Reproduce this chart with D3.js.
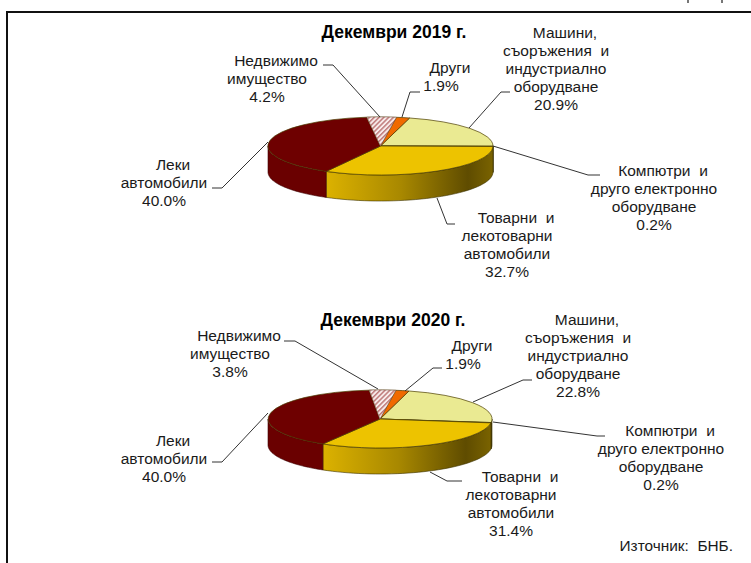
<!DOCTYPE html>
<html>
<head>
<meta charset="utf-8">
<script src="https://cdn.jsdelivr.net/npm/d3@7"></script>
<style>
  html, body { margin: 0; padding: 0; background: #fff; }
  text { font-family: "Liberation Sans", Arial, sans-serif; fill: #1a1a1a; }
</style>
</head>
<body>
<div id="chart"></div>
<script>
// data
var categories = ["Машини", "Компютри", "Товарни", "Леки", "Недвижимо", "Други"];
var values2019 = [20.9, 0.2, 32.7, 40.0, 4.2, 1.9];
var values2020 = [22.8, 0.2, 31.4, 40.0, 3.8, 1.9];
var titles = ["Декември 2019 г.", "Декември 2020 г."];
var labelNames = [
  ["Машини,", "съоръжения  и", "индустриално", "оборудване"],
  ["Компютри  и", "друго електронно", "оборудване"],
  ["Товарни  и", "лекотоварни", "автомобили"],
  ["Леки", "автомобили"],
  ["Недвижимо", "имущество"],
  ["Други"]
];
var source = "Източник:  БНБ.";

var colors = ["#eaea92", "#f0f0a0", "#edc300", "#6e0000", "#fff", "#f06a00"];

// layout of each pie, labels and leader lines
var pies = [
  { values: values2019, title: titles[0], titleX: 394, titleY: 38, cx: 380.5, cy: 146, rx: 112.5, ry: 29, depth: 26,
    labels: [[556, 38], [654, 176], [507, 223], [164, 170], [267, 66], [441, 73]],
    leaders: [
      [[510, 92], [501, 92], [469, 128]],
      [[600, 175], [588, 175], [493, 146]],
      [[455, 224], [447, 224], [437, 198]],
      [[212, 188], [222, 188], [268, 142]],
      [[323, 65], [333, 65], [380, 117]],
      [[420, 92], [410, 92], [402, 117]]
    ] },
  { values: values2020, title: titles[1], titleX: 393, titleY: 326, cx: 380, cy: 419, rx: 112, ry: 29, depth: 26,
    labels: [[578, 325], [661, 436], [511, 482], [164, 446], [230, 341], [463, 351]],
    leaders: [
      [[532, 380], [523, 380], [473, 402]],
      [[605, 436], [597, 436], [493, 422]],
      [[462, 481], [447, 481], [430, 472]],
      [[212, 462], [222, 462], [268, 413]],
      [[284, 341], [295, 341], [378, 389]],
      [[442, 368], [433, 368], [405, 391]]
    ] }
];

var width = 751, height = 563;
var startDeg = 15;

var svg = d3.select("#chart").append("svg")
    .attr("width", width)
    .attr("height", height)
    .style("display", "block");

var defs = svg.append("defs");

// red diagonal hatch of the small slice
var hatch = defs.append("pattern")
    .attr("id", "hatch")
    .attr("patternUnits", "userSpaceOnUse")
    .attr("width", 3.4)
    .attr("height", 3.4)
    .attr("patternTransform", "rotate(-45)");
hatch.append("rect").attr("width", 3.4).attr("height", 3.4).attr("fill", "#f8ecec");
hatch.append("rect").attr("width", 3.4).attr("height", 1.5).attr("fill", "#bf7a7a");

// side of the truck slice goes from gold to dark olive
var wall = defs.append("linearGradient").attr("id", "wall");
wall.append("stop").attr("offset", "0%").attr("stop-color", "#dcb200");
wall.append("stop").attr("offset", "45%").attr("stop-color", "#a88800");
wall.append("stop").attr("offset", "85%").attr("stop-color", "#5f4c00");
wall.append("stop").attr("offset", "100%").attr("stop-color", "#7a6300");

// frame: left and top only
svg.append("path")
    .attr("d", d3.line()([[7, height], [7, 12], [width, 12]]))
    .attr("fill", "none")
    .attr("stroke", "#111")
    .attr("stroke-width", 2);

// bits of the cropped line above the frame
[688, 722].forEach(function(x) {
  svg.append("line").attr("x1", x).attr("x2", x).attr("y1", 0).attr("y2", 3)
    .attr("stroke", "#777").attr("stroke-width", 2);
});

pies.forEach(function(p) {
  var g = svg.append("g");

  var arcs = d3.pie().sort(null)
      .startAngle(startDeg * Math.PI / 180)
      .endAngle((startDeg + 360) * Math.PI / 180)(p.values);

  var xOf = d3.scaleLinear().domain([-1, 1]).range([p.cx - p.rx, p.cx + p.rx]);
  var yOf = d3.scaleLinear().domain([-1, 1]).range([p.cy - p.ry, p.cy + p.ry]);

  // front wall, only the part of each slice facing the viewer (90..270 deg)
  arcs.forEach(function(a, i) {
    var a0 = Math.max(a.startAngle, Math.PI / 2), a1 = Math.min(a.endAngle, 3 * Math.PI / 2);
    if (a1 <= a0) return;
    var rim = d3.range(0, 41).map(function(k) { return a0 + (a1 - a0) * k / 40; });
    var area = d3.area()
        .x(function(t) { return xOf(Math.sin(t)); })
        .y0(function(t) { return yOf(-Math.cos(t)); })
        .y1(function(t) { return yOf(-Math.cos(t)) + p.depth; });
    g.append("path")
        .attr("d", area(rim))
        .attr("fill", i === 2 ? "url(#wall)" : i === 3 ? "#6a0000" : "#6b5700")
        .attr("stroke", i === 3 ? "#3c0000" : "#3a3000")
        .attr("stroke-width", 0.6);
  });

  // top face: d3.arc squashed into an ellipse
  var arc = d3.arc().innerRadius(0).outerRadius(1);
  g.append("g")
      .attr("transform", "translate(" + p.cx + "," + p.cy + ") scale(" + p.rx + "," + p.ry + ")")
    .selectAll("path")
    .data(arcs)
    .enter().append("path")
      .attr("d", arc)
      .attr("fill", function(d, i) { return colors[i]; })
      .attr("stroke", "#4a3c00")
      .attr("stroke-width", 0.7)
      .attr("vector-effect", "non-scaling-stroke");

  // hatch pattern would get squashed with the arc, so redo that slice unscaled
  var small = arcs[4];
  var rimSmall = d3.range(0, 11).map(function(k) {
    var t = small.startAngle + (small.endAngle - small.startAngle) * k / 10;
    return [xOf(Math.sin(t)), yOf(-Math.cos(t))];
  });
  g.append("path")
      .attr("d", d3.line()([[p.cx, p.cy]].concat(rimSmall)) + "Z")
      .attr("fill", "url(#hatch)")
      .attr("stroke", "#7a5a4a")
      .attr("stroke-width", 0.5);

  // leader lines
  g.selectAll(".leader")
    .data(p.leaders)
    .enter().append("path")
      .attr("class", "leader")
      .attr("d", d3.line())
      .attr("fill", "none")
      .attr("stroke", "#333")
      .attr("stroke-width", 1);

  // labels: name lines and then the percent, first line sits a bit to the right
  labelNames.forEach(function(lines, i) {
    var all = lines.concat([p.values[i].toFixed(1) + "%"]);
    var t = g.append("text")
        .attr("text-anchor", "middle")
        .attr("font-size", 15.5)
        .style("white-space", "pre");
    all.forEach(function(s, k) {
      t.append("tspan")
          .attr("x", p.labels[i][0] + (k === 0 ? 9 : 0))
          .attr("y", p.labels[i][1] + k * 18)
          .text(s);
    });
  });

  g.append("text")
      .attr("x", p.titleX)
      .attr("y", p.titleY)
      .attr("text-anchor", "middle")
      .attr("font-size", 17.5)
      .attr("font-weight", "bold")
      .style("fill", "#000")
      .text(p.title);
});

svg.append("text")
    .attr("x", 733)
    .attr("y", 551)
    .attr("text-anchor", "end")
    .attr("font-size", 15.4)
    .style("white-space", "pre")
    .text(source);
</script>
</body>
</html>
